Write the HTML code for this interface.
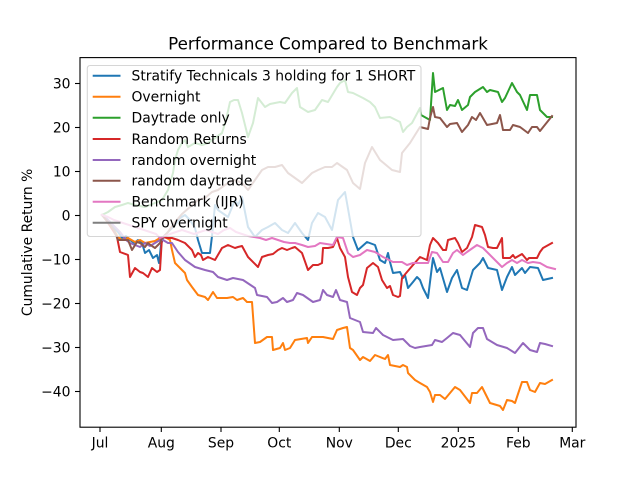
<!DOCTYPE html>
<html><head><meta charset="utf-8"><style>
html,body{margin:0;padding:0;background:#fff;}
svg{display:block;}
text{font-family:"DejaVu Sans","Liberation Sans",sans-serif;fill:#000;}
</style></head><body>
<svg width="640" height="480" viewBox="0 0 640 480" xmlns="http://www.w3.org/2000/svg">
<rect x="0" y="0" width="640" height="480" fill="#fff"/>
<g fill="none" stroke-width="2" stroke-linejoin="round" stroke-linecap="square">
<polyline stroke="#1f77b4" points="102,215 106,218 110,222 114,228 118,232 122,238 126,236 130,240 134,243 138,240 142,243 145,253 149,250 153,258 157,255 159,263 161,245 163,238 168,232 175,225 180,218 185,215 190,220 195,228 198,240 202,253 210,253 212,236 215,205 218,210 228,217 235,200 238,205 242,197 248,227 255,237 262,230 268,227 275,223 282,230 288,233 295,223 302,233 308,240 312,223 318,213 325,217 332,230 338,200 345,192 347,203 350,220 353,237 358,250 367,242 375,245 380,260 385,263 388,253 390,262 393,273 400,272 403,278 405,275 408,288 413,282 417,277 420,280 423,288 428,298 433,258 437,272 440,268 447,292 452,278 457,270 462,288 467,290 473,270 480,263 483,258 488,268 497,270 502,290 507,277 512,267 515,275 522,268 525,273 530,267 538,268 543,280 552,278"/>
<polyline stroke="#ff7f0e" points="102,215 108,222 114,230 118,237 122,240 128,238 135,242 140,240 145,243 150,242 155,241 160,238 165,237 170,240 172,250 175,263 185,273 187,280 192,287 198,295 205,297 208,300 213,292 217,298 227,298 233,297 237,300 243,298 247,302 252,302 255,343 260,342 267,337 272,337 273,350 280,348 283,343 285,350 290,348 295,340 307,338 308,343 312,337 320,337 323,337 333,339 337,330 343,328 347,327 350,348 353,350 360,360 363,357 370,361 375,355 385,359 388,355 390,365 400,367 403,365 407,367 408,373 415,380 420,383 427,387 430,392 433,402 435,395 440,395 445,399 455,387 460,390 470,403 472,393 477,393 482,387 487,397 490,403 500,406 503,410 507,400 512,401 515,403 522,382 527,382 530,390 535,392 540,383 545,384 552,380"/>
<polyline stroke="#2ca02c" points="102,215 108,212 115,207 122,205 128,203 135,205 145,207 155,203 162,200 168,190 173,173 175,160 178,150 182,143 185,140 188,147 195,143 202,145 208,143 215,138 222,133 226,120 230,102 234,100 238,100 242,113 248,137 253,123 258,98 265,107 270,104 275,103 280,102 285,103 292,93 297,88 300,107 308,112 315,110 322,100 328,102 337,87 340,83 345,80 348,92 353,93 363,98 370,102 375,107 380,118 390,117 400,122 403,132 407,127 412,123 420,108 421,115 430,120 433,73 435,92 443,88 447,110 450,105 455,106 458,100 462,110 468,105 470,97 475,92 483,87 487,92 490,90 498,92 502,102 505,98 512,83 517,92 520,95 527,110 530,95 537,95 540,110 547,117 552,117"/>
<polyline stroke="#d62728" points="102,215 106,220 110,226 114,232 117,237 120,252 128,255 130,277 135,268 140,272 143,273 148,277 152,268 157,272 160,270 162,237 168,238 172,238 178,240 185,243 192,250 195,257 198,253 201,255 203,260 208,257 215,260 222,248 228,245 235,248 238,247 242,246 248,257 258,267 262,257 268,255 273,254 278,250 282,248 287,250 292,248 295,247 302,253 308,270 313,265 318,265 322,263 323,248 328,248 333,247 337,238 340,248 345,257 348,277 352,292 357,295 360,288 363,285 367,268 373,263 378,267 382,280 387,288 390,286 393,295 398,297 400,296 402,278 407,272 413,265 420,257 427,260 430,245 433,238 438,243 443,250 446,250 448,240 455,238 458,243 462,252 467,248 472,237 475,225 482,227 485,235 488,247 493,248 497,248 502,238 503,258 510,258 513,255 515,258 522,254 527,260 529,258 537,258 540,252 543,248 552,243"/>
<polyline stroke="#9467bd" points="102,215 108,220 114,226 120,232 126,240 130,243 135,245 140,247 145,243 150,246 155,243 160,240 163,240 168,243 172,243 178,252 185,260 195,267 205,270 213,272 218,277 227,280 233,278 243,280 255,288 257,295 267,297 272,303 277,302 283,298 287,302 293,300 297,293 303,295 313,302 320,300 323,290 327,295 333,297 336,290 340,300 347,302 350,318 360,322 363,332 373,333 376,328 383,335 387,337 393,340 403,339 410,346 415,348 420,347 432,345 435,340 442,342 447,338 453,333 460,335 470,347 473,333 478,328 483,328 487,339 497,345 507,348 515,353 523,343 530,350 537,352 540,343 545,344 552,346"/>
<polyline stroke="#8c564b" points="102,215 108,222 114,230 118,240 125,240 128,240 132,250 137,242 140,243 145,247 148,243 152,246 155,248 160,243 162,238 168,232 175,222 182,214 190,207 198,200 205,198 212,192 218,190 225,185 230,182 235,180 242,183 248,190 255,180 262,170 268,167 275,167 282,165 288,173 295,178 302,183 307,178 312,173 318,170 325,167 332,167 337,163 347,170 353,183 360,189 365,163 372,147 380,160 392,170 400,172 402,153 410,143 420,127 428,129 430,118 433,107 435,117 440,118 447,127 450,124 457,123 462,132 468,125 472,117 476,120 480,113 487,125 497,123 500,115 503,130 510,130 513,125 520,127 528,133 532,127 537,127 540,131 552,116"/>
<polyline stroke="#e377c2" points="102,215 108,217 114,220 120,222 126,224 132,226 138,228 144,230 150,232 156,234 160,238 165,236 170,234 176,232 182,230 188,232 194,234 200,232 206,230 212,232 218,234 224,230 230,228 236,232 242,234 248,236 254,237 260,238 266,240 272,238 278,240 284,242 290,243 295,243 302,245 308,247 315,246 320,243 333,245 337,237 343,238 348,253 353,257 360,255 367,250 375,252 383,257 393,262 402,262 407,265 413,263 420,263 428,263 432,252 437,253 443,262 448,262 453,253 457,250 463,255 467,252 477,245 483,248 490,255 497,262 502,267 507,263 512,260 517,263 522,260 528,263 533,262 540,263 547,267 555,269"/>
</g>
<rect x="80" y="57.6" width="496" height="369.6" fill="none" stroke="#000" stroke-width="1.1"/>
<g stroke="#000" stroke-width="1.1">
<line x1="75" y1="83.5" x2="80" y2="83.5"/>
<line x1="75" y1="127.5" x2="80" y2="127.5"/>
<line x1="75" y1="171.5" x2="80" y2="171.5"/>
<line x1="75" y1="215.5" x2="80" y2="215.5"/>
<line x1="75" y1="259.5" x2="80" y2="259.5"/>
<line x1="75" y1="303.5" x2="80" y2="303.5"/>
<line x1="75" y1="347.5" x2="80" y2="347.5"/>
<line x1="75" y1="391.5" x2="80" y2="391.5"/>
<line x1="100" y1="427" x2="100" y2="432"/>
<line x1="161.3" y1="427" x2="161.3" y2="432"/>
<line x1="221" y1="427" x2="221" y2="432"/>
<line x1="279.3" y1="427" x2="279.3" y2="432"/>
<line x1="339.3" y1="427" x2="339.3" y2="432"/>
<line x1="398.3" y1="427" x2="398.3" y2="432"/>
<line x1="458.3" y1="427" x2="458.3" y2="432"/>
<line x1="518.3" y1="427" x2="518.3" y2="432"/>
<line x1="572.3" y1="427" x2="572.3" y2="432"/>
</g>
<g font-size="13.9" text-anchor="end">
<text x="70.5" y="88.5">30</text>
<text x="70.5" y="132.5">20</text>
<text x="70.5" y="176.5">10</text>
<text x="70.5" y="220.5">0</text>
<text x="70.5" y="264.5">−10</text>
<text x="70.5" y="308.5">−20</text>
<text x="70.5" y="352.5">−30</text>
<text x="70.5" y="396.5">−40</text>
</g>
<g font-size="13.9" text-anchor="middle">
<text x="100" y="447.5">Jul</text>
<text x="161.3" y="447.5">Aug</text>
<text x="221" y="447.5">Sep</text>
<text x="279.3" y="447.5">Oct</text>
<text x="339.3" y="447.5">Nov</text>
<text x="398.3" y="447.5">Dec</text>
<text x="458.3" y="447.5">2025</text>
<text x="518.3" y="447.5">Feb</text>
<text x="572.3" y="447.5">Mar</text>
</g>
<text x="32" y="242.4" font-size="13.9" text-anchor="middle" transform="rotate(-90 32 242.4)">Cumulative Return %</text>
<text x="328" y="49.3" font-size="16.7" text-anchor="middle">Performance Compared to Benchmark</text>
<rect x="87.3" y="65.5" width="333.7" height="171" rx="2.8" ry="2.8" fill="#fff" fill-opacity="0.8" stroke="#ccc" stroke-opacity="0.8" stroke-width="1.1"/>
<g stroke-width="2">
<line x1="92.7" y1="75.7" x2="120.5" y2="75.7" stroke="#1f77b4"/>
<line x1="92.7" y1="96.7" x2="120.5" y2="96.7" stroke="#ff7f0e"/>
<line x1="92.7" y1="117.7" x2="120.5" y2="117.7" stroke="#2ca02c"/>
<line x1="92.7" y1="139" x2="120.5" y2="139" stroke="#d62728"/>
<line x1="92.7" y1="160" x2="120.5" y2="160" stroke="#9467bd"/>
<line x1="92.7" y1="180.7" x2="120.5" y2="180.7" stroke="#8c564b"/>
<line x1="92.7" y1="201.7" x2="120.5" y2="201.7" stroke="#e377c2"/>
<line x1="92.7" y1="222.7" x2="120.5" y2="222.7" stroke="#7f7f7f"/>
</g>
<g font-size="13.9">
<text x="131.5" y="80.7">Stratify Technicals 3 holding for 1 SHORT</text>
<text x="131.5" y="101.7">Overnight</text>
<text x="131.5" y="122.7">Daytrade only</text>
<text x="131.5" y="144">Random Returns</text>
<text x="131.5" y="165">random overnight</text>
<text x="131.5" y="185.7">random daytrade</text>
<text x="131.5" y="206.7">Benchmark (IJR)</text>
<text x="131.5" y="227.7">SPY overnight</text>
</g>
</svg>
</body></html>
